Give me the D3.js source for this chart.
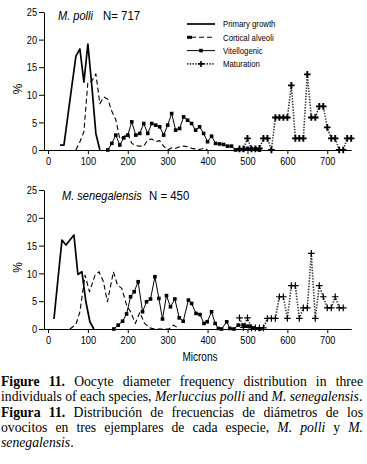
<!DOCTYPE html>
<html>
<head>
<meta charset="utf-8">
<script src="https://cdn.jsdelivr.net/npm/d3@7"></script>
<style>
  body { margin: 0; background: #fff; }
  svg { display: block; }
</style>
</head>
<body>
<div id="chart"></div>
<script>
// values: [microns, %]
const tickMicrons = [0, 100, 200, 300, 400, 500, 600, 700]
const tickPct = [0, 5, 10, 15, 20, 25]
const stageNames = ['Primary growth', 'Cortical alveoli', 'Vitellogenic', 'Maturation']

const polliPrimary = [[30,0.9],[40,0.9],[50,6.3],[60,11.7],[70,17],[80,18.3],[90,12.3],[100,19.2],[110,11.5],[120,3],[130,0]]
const polliCortical = [[70,0],[80,1.5],[90,3.3],[100,12.3],[110,12.5],[120,13.8],[130,8.4],[140,9.6],[150,9.2],[160,7],[170,5.5],[180,2],[190,2.4],[200,3],[210,1.2],[220,0.8],[230,0.7],[240,0.7],[250,1.8],[260,2],[270,1.5],[280,1.7],[290,0.7],[300,0],[310,0.4],[320,0.3],[330,0.6],[340,0.7],[350,0.6],[360,0.3],[370,0.2],[380,0.1],[390,0.3],[400,0]]
const polliVitello = [[150,0],[160,1.2],[170,2.7],[180,0.9],[190,2.2],[200,2.7],[210,5.1],[220,2.7],[230,3],[240,4.8],[250,3],[260,4.8],[270,4.5],[280,4.2],[290,2.7],[300,4.5],[310,6.6],[320,3.6],[330,3.9],[340,6],[350,5.4],[360,4.8],[370,3.6],[380,4.2],[390,3],[400,1.5],[410,2.5],[420,1.2],[430,1.1],[440,1],[450,0.7],[460,0.7],[470,0],[480,0.1],[490,0.1],[500,0.3],[510,0.2],[520,0.2],[530,0]]
const polliMatur = [[480,0.2],[490,0.2],[500,2.1],[510,0.2],[520,0.2],[530,0.3],[540,2.1],[550,2.1],[560,0],[570,5.9],[580,5.9],[590,5.9],[600,5.9],[610,11.7],[620,2.1],[630,2.1],[640,2.1],[650,13.7],[660,5.9],[670,5.9],[680,7.9],[690,7.9],[700,4.1],[710,2.1],[720,2.1],[730,0],[740,0],[750,2.1],[760,2.1]]

const senePrimary = [[15,1.8],[25,9],[35,16],[45,15.1],[55,16],[65,16.9],[75,9.8],[85,10.3],[95,4.9],[105,1.3],[115,0]]
const seneCortical = [[55,0],[70,0.8],[80,3.1],[93,9.7],[104,6.7],[118,9.7],[128,10.3],[139,8.5],[149,4.9],[164,10.3],[174,7.9],[185,7.3],[197,4.3],[207,3.1],[219,1],[230,3],[242,1],[255,0.2],[268,0],[290,0],[303,0],[315,0.7],[329,0]]
const seneVitello = [[165,0],[176,0.7],[187,1.4],[197,2.7],[207,5.8],[216,6.7],[226,8.5],[237,3.1],[247,4.9],[257,5.4],[268,9.4],[278,5.5],[287,1.8],[297,6],[307,4],[318,5.4],[329,2],[339,1.4],[352,5.2],[360,4.6],[371,2.8],[381,2.6],[391,1],[399,1.3],[410,3.1],[419,1],[427,0.1],[435,0],[448,1.3],[456,0.1],[466,0],[477,0.7],[490,0.7],[498,0.5],[506,0.5],[516,0.2],[531,0]]
const seneMatur = [[480,2],[490,0.3],[500,2],[510,0.2],[520,0.2],[530,0.2],[540,0.2],[550,1.9],[560,1.9],[570,1.9],[580,5.8],[590,5.8],[600,1.9],[610,7.8],[620,7.8],[630,1.9],[640,3.8],[650,3.8],[660,13.6],[670,1.9],[680,7.8],[690,5.8],[700,3.8],[710,3.8],[720,5.8],[730,3.8],[740,3.8]]

const captionLines = [
  { y: 386, justify: true, segs: [{ t: 'Figure 11.', b: true }, { t: 'Oocyte diameter frequency distribution in three' }] },
  { y: 401, justify: false, segs: [{ t: 'individuals of each species,' }, { t: 'Merluccius polli', i: true }, { t: 'and' }, { t: 'M. senegalensis', i: true }, { t: '.', glue: true }] },
  { y: 417, justify: true, segs: [{ t: 'Figura 11.', b: true }, { t: 'Distribución de frecuencias de diámetros de los' }] },
  { y: 432, justify: true, segs: [{ t: 'ovocitos en tres ejemplares de cada especie,' }, { t: 'M. polli', i: true }, { t: 'y' }, { t: 'M.', i: true }] },
  { y: 447, justify: false, segs: [{ t: 'senegalensis', i: true }, { t: '.', glue: true }] }
]

const W = 367, H = 464
const sans = '"Liberation Sans", Arial, sans-serif'
const serif = '"Liberation Serif", "Times New Roman", serif'

const svg = d3.select('#chart').append('svg')
  .attr('width', W).attr('height', H)

// the printed chart uses a narrow sans; squeeze Liberation Sans to match
const condense = (sel, k = 0.8) => sel.each(function () {
  const len = this.getComputedTextLength()
  d3.select(this).attr('textLength', len * k).attr('lengthAdjust', 'spacingAndGlyphs')
})

const x = d3.scaleLinear().domain([-10, 760]).range([44, 351.2])

const panels = [
  { title: 'M. polli', n: 'N= 717', titleX: 58, nX: 103, titleY: 20, y0: 150, y25: 12,
    series: [polliPrimary, polliCortical, polliVitello, polliMatur], plusW: 1.9, xTitle: false, legend: true },
  { title: 'M. senegalensis', n: 'N = 450', titleX: 62, nX: 149, titleY: 200, y0: 329, y25: 190,
    series: [senePrimary, seneCortical, seneVitello, seneMatur], plusW: 1.2, xTitle: true, legend: false }
]

const styles = [
  { width: 1.7, dash: null },
  { width: 1.1, dash: '5,3' },
  { width: 1, dash: null },
  { width: 1.6, dash: '1.4,1.4', color: '#333' }
]

const plusPath = (s) => `M${-s},0H${s}M0,${-s}V${s}`

panels.forEach(p => {
  const y = d3.scaleLinear().domain([0, 25]).range([p.y0, p.y25])
  const g = svg.append('g')

  const yAxis = d3.axisLeft(y).tickValues(tickPct).tickSize(5).tickSizeOuter(0).tickPadding(2)
  const xAxis = d3.axisBottom(x).tickValues(tickMicrons).tickSize(4).tickSizeOuter(0).tickPadding(3)

  g.append('g').attr('transform', `translate(${x(-10)},0)`).call(yAxis)
  g.append('g').attr('transform', `translate(0,${p.y0})`).call(xAxis)

  g.selectAll('.domain, .tick line').attr('stroke', '#000').attr('stroke-width', 1)
  g.selectAll('.tick text').attr('font-family', sans).attr('font-size', 11.5).attr('fill', '#000')
    .call(condense)

  const line = d3.line().x(d => x(d[0])).y(d => y(d[1]))

  p.series.forEach((data, i) => {
    const st = styles[i]
    g.append('path')
      .datum(data)
      .attr('fill', 'none')
      .attr('stroke', st.color || '#000')
      .attr('stroke-width', st.width)
      .attr('stroke-dasharray', st.dash)
      .attr('stroke-linejoin', 'round')
      .attr('d', line)
  })

  // square markers for vitellogenic
  g.selectAll('.sq')
    .data(p.series[2])
    .join('rect')
    .attr('class', 'sq')
    .attr('x', d => x(d[0]) - 1.8)
    .attr('y', d => y(d[1]) - 1.8)
    .attr('width', 3.6).attr('height', 3.6)
    .attr('fill', '#000')

  // plus markers for maturation
  g.selectAll('.plus')
    .data(p.series[3])
    .join('path')
    .attr('class', 'plus')
    .attr('transform', d => `translate(${x(d[0])},${y(d[1])})`)
    .attr('d', plusPath(3.3))
    .attr('stroke', '#000')
    .attr('stroke-width', p.plusW)

  g.append('text')
    .attr('x', p.titleX).attr('y', p.titleY)
    .attr('font-family', sans).attr('font-size', 12).attr('font-style', 'italic')
    .text(p.title)
    .call(condense, 0.92)
  g.append('text')
    .attr('x', p.nX).attr('y', p.titleY)
    .attr('font-family', sans).attr('font-size', 12)
    .text(p.n)
    .call(condense, 0.95)

  g.append('text')
    .attr('transform', `translate(22,${(p.y0 + p.y25) / 2 + 8}) rotate(-90)`)
    .attr('text-anchor', 'middle')
    .attr('font-family', sans).attr('font-size', 12)
    .text('%')

  if (p.xTitle) {
    g.append('text')
      .attr('x', 200).attr('y', p.y0 + 32)
      .attr('text-anchor', 'middle')
      .attr('font-family', sans).attr('font-size', 12.5)
      .text('Microns')
      .call(condense)
  }

  if (p.legend) {
    const lg = g.append('g').attr('transform', 'translate(187,24)')
    const rows = lg.selectAll('g').data(stageNames).join('g')
      .attr('transform', (d, i) => `translate(0,${i * 13.3})`)
    rows.append('line')
      .attr('x1', (d, i) => i === 1 ? 4 : 0).attr('x2', 28)
      .attr('stroke', (d, i) => styles[i].color || '#000')
      .attr('stroke-width', (d, i) => styles[i].width)
      .attr('stroke-dasharray', (d, i) => styles[i].dash)
    rows.filter((d, i) => i === 1).append('rect')
      .attr('x', 0).attr('y', -1.5).attr('width', 5).attr('height', 3).attr('fill', '#000')
    rows.filter((d, i) => i === 2).append('rect')
      .attr('x', 12.2).attr('y', -1.8).attr('width', 3.6).attr('height', 3.6).attr('fill', '#000')
    rows.filter((d, i) => i === 3).append('path')
      .attr('transform', 'translate(14,0)')
      .attr('d', plusPath(3)).attr('stroke', '#000').attr('stroke-width', 1.6)
    rows.append('text')
      .attr('x', 36).attr('y', 3.2)
      .attr('font-family', sans).attr('font-size', 9.5)
      .text(d => d)
      .call(condense, 0.82)
  }
})

// caption, justified word by word like the printed page
const cap = svg.append('g').attr('font-family', serif).attr('font-size', 13.7).attr('fill', '#000')
const capLeft = 1, capRight = 363

captionLines.forEach(line => {
  const words = []
  line.segs.forEach(s => {
    const parts = s.t.split(' ').filter(w => w)
    parts.forEach((w, k) => words.push({ t: w, b: s.b, i: s.i, glue: s.glue && k === 0 }))
  })
  const nodes = words.map(w => cap.append('text')
    .attr('y', line.y)
    .attr('font-weight', w.b ? 'bold' : null)
    .attr('font-style', w.i ? 'italic' : null)
    .text(w.t))
  const widths = nodes.map(n => n.node().getComputedTextLength())
  const gaps = words.filter((w, k) => k > 0 && !w.glue).length
  const space = line.justify ? (capRight - capLeft - d3.sum(widths)) / gaps : 3.4
  let cx = capLeft
  nodes.forEach((n, k) => {
    if (k > 0) cx += words[k].glue ? 0 : space
    n.attr('x', cx)
    cx += widths[k]
  })
})
</script>
</body>
</html>
